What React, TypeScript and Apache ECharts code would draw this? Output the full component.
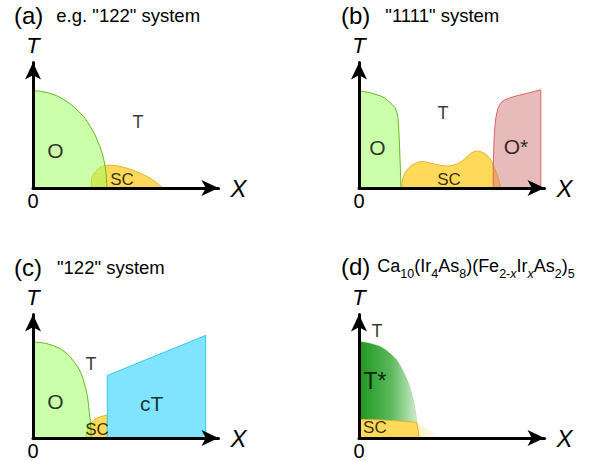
import React, { useEffect, useRef } from "react";
import * as echarts from "echarts";

const FONT = "'Liberation Sans', Arial, Helvetica, sans-serif";

// Panel titles
const TITLE_A = ["(a)", 'e.g. "122" system'];
const TITLE_B = ["(b)", '"1111" system'];
const TITLE_C = ["(c)", '"122" system'];
const TITLE_D = ["(d)", "Ca{s|10}(Ir{s|4}As{s|8})(Fe{s|2-}{si|x}Ir{si|x}As{s|2}){s|5}"];

// Axis names / tick label
const X_NAME = "X";
const T_NAME = "T";
const ZERO_LABEL = "0";

// (a) e.g. "122": [X, T] boundaries (fractions of axis length)
const A_O = [[0, 0], [0, 0.726], [0.04, 0.722], [0.077, 0.711], [0.12, 0.69], [0.155, 0.664], [0.195, 0.625], [0.232, 0.576], [0.26, 0.535], [0.284, 0.486], [0.303, 0.44], [0.32, 0.396], [0.345, 0.308], [0.358, 0.255], [0.366, 0.204], [0.372, 0.16], [0.376, 0.119], [0.379, 0.06], [0.381, 0]];
const A_SC = [[0.299, 0], [0.3, 0.04], [0.304, 0.081], [0.315, 0.11], [0.33, 0.133], [0.345, 0.152], [0.361, 0.163], [0.38, 0.169], [0.397, 0.17], [0.43, 0.166], [0.464, 0.156], [0.51, 0.136], [0.552, 0.111], [0.59, 0.085], [0.619, 0.059], [0.645, 0.03], [0.67, 0]];
const A_LABELS: [string, number, number][] = [["O", 0.116, 0.281], ["T", 0.541, 0.496], ["SC", 0.459, 0.067]];

// (b) "1111"
const B_O = [[0, 0], [0, 0.726], [0.057, 0.711], [0.108, 0.689], [0.13, 0.672], [0.149, 0.652], [0.17, 0.625], [0.186, 0.6], [0.196, 0.56], [0.201, 0.526], [0.204, 0.47], [0.206, 0.407], [0.209, 0.32], [0.211, 0.23], [0.214, 0.12], [0.216, 0]];
const B_SC = [[0.22, 0], [0.222, 0.04], [0.228, 0.084], [0.24, 0.118], [0.254, 0.146], [0.27, 0.168], [0.289, 0.183], [0.305, 0.193], [0.323, 0.198], [0.345, 0.195], [0.366, 0.187], [0.39, 0.178], [0.418, 0.17], [0.445, 0.165], [0.469, 0.165], [0.49, 0.172], [0.512, 0.183], [0.535, 0.205], [0.555, 0.232], [0.572, 0.254], [0.589, 0.269], [0.603, 0.276], [0.615, 0.276], [0.632, 0.268], [0.649, 0.257], [0.664, 0.238], [0.675, 0.22], [0.685, 0.195], [0.692, 0.17], [0.701, 0.14], [0.71, 0.109], [0.717, 0.078], [0.723, 0.047], [0.727, 0.022], [0.73, 0]];
const B_OSTAR = [[0.692, 0], [0.692, 0.158], [0.694, 0.26], [0.696, 0.356], [0.7, 0.45], [0.706, 0.528], [0.712, 0.57], [0.718, 0.602], [0.73, 0.63], [0.744, 0.652], [0.77, 0.668], [0.796, 0.681], [0.83, 0.694], [0.864, 0.706], [0.9, 0.719], [0.933, 0.731], [0.937, 0.733], [0.937, 0]];
const B_LABELS: [string, number, number][] = [["O", 0.095, 0.3], ["T", 0.433, 0.556], ["O*", 0.809, 0.311], ["SC", 0.464, 0.067]];

// (c) "122"
const C_O = [[0, 0], [0, 0.728], [0.035, 0.725], [0.071, 0.716], [0.105, 0.7], [0.139, 0.679], [0.165, 0.652], [0.191, 0.617], [0.213, 0.575], [0.234, 0.531], [0.248, 0.49], [0.259, 0.444], [0.27, 0.385], [0.28, 0.321], [0.286, 0.26], [0.29, 0.198], [0.294, 0.15], [0.297, 0.099], [0.299, 0.05], [0.299, 0]];
const C_SC = [[0.273, 0], [0.275, 0.03], [0.28, 0.062], [0.288, 0.088], [0.297, 0.111], [0.308, 0.128], [0.32, 0.143], [0.332, 0.153], [0.345, 0.161], [0.365, 0.168], [0.383, 0.173], [0.383, 0]];
const C_CT = [[0.383, 0], [0.383, 0.474], [0.89, 0.778], [0.89, 0]];
const C_LABELS: [string, number, number][] = [["O", 0.116, 0.278], ["T", 0.299, 0.563], ["cT", 0.611, 0.263], ["SC", 0.33, 0.063]];

// (d) Ca10(Ir4As8)(Fe2-xIrxAs2)5
const D_TSTAR = [[0, 0], [0, 0.733], [0.052, 0.721], [0.08, 0.71], [0.108, 0.696], [0.13, 0.677], [0.151, 0.654], [0.173, 0.625], [0.194, 0.593], [0.212, 0.552], [0.228, 0.506], [0.242, 0.462], [0.254, 0.42], [0.266, 0.365], [0.277, 0.309], [0.284, 0.265], [0.289, 0.222], [0.294, 0.175], [0.297, 0.128], [0.297, 0]];
const D_SC = [[0, 0], [0, 0.141], [0.06, 0.139], [0.125, 0.136], [0.17, 0.132], [0.211, 0.128], [0.255, 0.124], [0.297, 0.119], [0.311, 0]];
const D_TAIL = [[0.297, 0.119], [0.36, 0.06], [0.433, 0], [0.311, 0]];
const D_LABELS: [string, number, number][] = [["T", 0.093, 0.815], ["T*", 0.082, 0.43], ["SC", 0.082, 0.078]];

const LABEL_SIZE: Record<string, number> = { O: 21, T: 18, SC: 17, "O*": 21, cT: 21, "T*": 23 };

// Layout (pixels)
const ORIGINS = [[33, 188], [359, 188], [33, 440], [359, 440]];
const AX_LEN_X = 194;
const AX_LEN_Y = 134;
const ARROW = 8.5;

const GREEN = { fill: "rgba(153,255,85,0.5)", stroke: "#66bb22", lineWidth: 1 };
const YELLOW = { fill: "#ffd95a", stroke: "#e6b42a", lineWidth: 1 };
const RED = { fill: "rgba(209,119,119,0.5)", stroke: "#e06060", lineWidth: 1 };
const BLUE = { fill: "#80e4ff", stroke: "#2ec8f5", lineWidth: 1 };

function region(grid: number, pts: number[][], style: any, z: number) {
  return {
    type: "custom",
    coordinateSystem: "cartesian2d",
    xAxisIndex: grid,
    yAxisIndex: grid,
    data: pts,
    z,
    silent: true,
    clip: false,
    renderItem: (params: any, api: any) => {
      if (params.dataIndex !== 0) return null;
      return {
        type: "polygon",
        shape: { points: pts.map((p) => api.coord(p)) },
        style,
      };
    },
  };
}

export default function App() {
  const ref = useRef<HTMLDivElement>(null);
  useEffect(() => {
    const chart = echarts.init(ref.current!, undefined, { renderer: "svg" });
    const grids = ORIGINS.map(([ox, oy]) => ({
      left: ox,
      top: oy - (AX_LEN_Y - ARROW),
      width: AX_LEN_X - ARROW,
      height: AX_LEN_Y - ARROW,
    }));
    const axisLine = {
      show: true,
      onZero: false,
      lineStyle: { color: "#000", width: 3 },
      symbol: ["none", "arrow"],
      symbolSize: [12, 17],
    };
    const xAxes = ORIGINS.map((_, i) => ({
      gridIndex: i,
      type: "value",
      min: 0,
      max: (AX_LEN_X - ARROW) / AX_LEN_X,
      interval: 10,
      z: 10,
      axisLine,
      axisTick: { show: false },
      splitLine: { show: false },
      axisLabel: {
        formatter: (v: number) => (v === 0 ? ZERO_LABEL : ""),
        fontSize: 20,
        color: "#000",
        margin: 3,
        fontFamily: FONT,
      },
      name: X_NAME,
      nameLocation: "end",
      nameGap: 12,
      nameTextStyle: { fontStyle: "italic", fontSize: 24, color: "#000", fontFamily: FONT },
    }));
    const yAxes = ORIGINS.map((_, i) => ({
      gridIndex: i,
      type: "value",
      min: 0,
      max: (AX_LEN_Y - ARROW) / AX_LEN_Y,
      interval: 10,
      z: 10,
      axisLine,
      axisTick: { show: false },
      splitLine: { show: false },
      axisLabel: { show: false },
      name: T_NAME,
      nameLocation: "end",
      nameGap: 6,
      nameTextStyle: { fontStyle: "italic", fontSize: 22, color: "#000", fontFamily: FONT },
    }));

    const base = { fontFamily: FONT, color: "#000", fontWeight: "normal" };
    const titleRich = {
      p: { ...base, fontSize: 24, lineHeight: 28 },
      t: { ...base, fontSize: 18.5, padding: [0, 0, 0, 13] },
      u: { ...base, fontSize: 18.5, padding: [0, 0, 0, 15] },
      c: { ...base, fontSize: 18, padding: [0, 0, 0, 7], lineHeight: 25 },
      f: { ...base, fontSize: 18, lineHeight: 25 },
      s: { ...base, fontSize: 12.5, lineHeight: 12, verticalAlign: "bottom" },
      si: { ...base, fontSize: 12.5, lineHeight: 12, verticalAlign: "bottom", fontStyle: "italic" },
    };
    const fmtD = (() => {
      const src = TITLE_D[1];
      const parts = src.split(/(\{[a-z]+\|[^}]*\})/).filter((s) => s.length);
      let first = true;
      return parts
        .map((s) => {
          if (s.startsWith("{")) return s;
          const tok = first ? `{c|${s}}` : `{f|${s}}`;
          first = false;
          return tok;
        })
        .join("");
    })();
    const titles = [
      { text: `{p|${TITLE_A[0]}}{t|${TITLE_A[1]}}`, left: 14, top: 1 },
      { text: `{p|${TITLE_B[0]}}{u|${TITLE_B[1]}}`, left: 341, top: 1 },
      { text: `{p|${TITLE_C[0]}}{u|${TITLE_C[1]}}`, left: 14, top: 253 },
      { text: `{p|${TITLE_D[0]}}${fmtD}`, left: 341, top: 252 },
    ].map((t) => ({ ...t, padding: 0, textStyle: { rich: titleRich, fontFamily: FONT, fontWeight: "normal" } }));

    const tGrad = new echarts.graphic.LinearGradient(0, 0, 1, 0, [
      { offset: 0, color: "#1e961e" },
      { offset: 0.55, color: "#5ab85a" },
      { offset: 1, color: "#cdeccd" },
    ]);
    const tailGrad = new echarts.graphic.LinearGradient(0, 0, 1, 0, [
      { offset: 0, color: "rgba(255,222,130,0.5)" },
      { offset: 1, color: "rgba(255,235,180,0.12)" },
    ]);

    const labelSeries = [A_LABELS, B_LABELS, C_LABELS, D_LABELS].map((items, g) => ({
      type: "scatter",
      xAxisIndex: g,
      yAxisIndex: g,
      symbolSize: 0,
      z: 20,
      silent: true,
      data: items.map(([n, x, y]) => ({
        name: n,
        value: [x, y],
        label: { fontSize: LABEL_SIZE[n] },
      })),
      label: {
        show: true,
        position: "inside",
        color: "#000",
        fontFamily: FONT,
        formatter: (p: any) => p.name,
      },
    }));

    const series: any[] = [
      region(0, A_SC, YELLOW, 1),
      region(0, A_O, GREEN, 2),
      region(1, B_SC, YELLOW, 1),
      region(1, B_O, GREEN, 2),
      region(1, B_OSTAR, RED, 2),
      region(2, C_SC, YELLOW, 1),
      region(2, C_O, GREEN, 2),
      region(2, C_CT, BLUE, 3),
      region(3, D_TSTAR, { fill: tGrad, stroke: "rgba(120,190,120,0.6)", lineWidth: 0.5 }, 1),
      region(3, D_TAIL, { fill: tailGrad }, 1),
      region(3, D_SC, YELLOW, 2),
      ...labelSeries,
    ];

    chart.setOption({
      animation: false,
      title: titles,
      grid: grids,
      xAxis: xAxes,
      yAxis: yAxes,
      series,
    });
    return () => chart.dispose();
  }, []);
  return <div ref={ref} style={{ position: "absolute", left: 0, top: 0, width: 600, height: 461 }} />;
}
